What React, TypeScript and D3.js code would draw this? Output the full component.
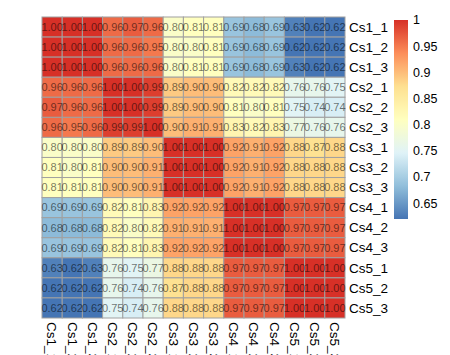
import React from "react";
import * as d3 from "d3";

const samples = ["Cs1_1","Cs1_2","Cs1_3","Cs2_1","Cs2_2","Cs2_3","Cs3_1","Cs3_2","Cs3_3","Cs4_1","Cs4_2","Cs4_3","Cs5_1","Cs5_2","Cs5_3"];

const rowCs1_1 = [1.00,1.00,1.00,0.96,0.97,0.96,0.80,0.81,0.81,0.69,0.68,0.69,0.63,0.62,0.62];
const rowCs1_2 = [1.00,1.00,1.00,0.96,0.96,0.95,0.80,0.80,0.81,0.69,0.68,0.69,0.62,0.62,0.62];
const rowCs1_3 = [1.00,1.00,1.00,0.96,0.96,0.96,0.80,0.81,0.81,0.69,0.68,0.69,0.63,0.62,0.62];
const rowCs2_1 = [0.96,0.96,0.96,1.00,1.00,0.99,0.89,0.90,0.90,0.82,0.82,0.82,0.76,0.76,0.75];
const rowCs2_2 = [0.97,0.96,0.96,1.00,1.00,0.99,0.89,0.90,0.90,0.81,0.80,0.81,0.75,0.74,0.74];
const rowCs2_3 = [0.96,0.95,0.96,0.99,0.99,1.00,0.90,0.91,0.91,0.83,0.82,0.83,0.77,0.76,0.76];
const rowCs3_1 = [0.80,0.80,0.80,0.89,0.89,0.90,1.00,1.00,1.00,0.92,0.91,0.92,0.88,0.87,0.88];
const rowCs3_2 = [0.81,0.80,0.81,0.90,0.90,0.91,1.00,1.00,1.00,0.92,0.91,0.92,0.88,0.88,0.88];
const rowCs3_3 = [0.81,0.81,0.81,0.90,0.90,0.91,1.00,1.00,1.00,0.92,0.91,0.92,0.88,0.88,0.88];
const rowCs4_1 = [0.69,0.69,0.69,0.82,0.81,0.83,0.92,0.92,0.92,1.00,1.00,1.00,0.97,0.97,0.97];
const rowCs4_2 = [0.68,0.68,0.68,0.82,0.80,0.82,0.91,0.91,0.91,1.00,1.00,1.00,0.97,0.97,0.97];
const rowCs4_3 = [0.69,0.69,0.69,0.82,0.81,0.83,0.92,0.92,0.92,1.00,1.00,1.00,0.97,0.97,0.97];
const rowCs5_1 = [0.63,0.62,0.63,0.76,0.75,0.77,0.88,0.88,0.88,0.97,0.97,0.97,1.00,1.00,1.00];
const rowCs5_2 = [0.62,0.62,0.62,0.76,0.74,0.76,0.87,0.88,0.88,0.97,0.97,0.97,1.00,1.00,1.00];
const rowCs5_3 = [0.62,0.62,0.62,0.75,0.74,0.76,0.88,0.88,0.88,0.97,0.97,0.97,1.00,1.00,1.00];

const matrix = [rowCs1_1,rowCs1_2,rowCs1_3,rowCs2_1,rowCs2_2,rowCs2_3,rowCs3_1,rowCs3_2,rowCs3_3,rowCs4_1,rowCs4_2,rowCs4_3,rowCs5_1,rowCs5_2,rowCs5_3];

const legendTicks = [1, 0.95, 0.9, 0.85, 0.8, 0.75, 0.7, 0.65];
const palette = ["#4575B4","#91BFDB","#E0F3F8","#FFFFBF","#FEE090","#FC8D59","#D73027"];
const vMin = 0.62, vMax = 1.0;

const FONT = "'Liberation Sans', Arial, Helvetica, sans-serif";

export default function App() {
  const W = 450, H = 355;
  const gx0 = 42, gx1 = 345, gy0 = 17, gy1 = 318;
  const x = d3.scaleBand<string>().domain(samples).range([gx0, gx1]);
  const y = d3.scaleBand<string>().domain(samples).range([gy0, gy1]);
  const stops = d3.range(palette.length).map(i => vMin + (i * (vMax - vMin)) / (palette.length - 1));
  const color = d3.scaleLinear<string>().domain(stops).range(palette).interpolate(d3.interpolateRgb).clamp(true);

  const ly = d3.scaleLinear().domain([vMin, vMax]).range([219, 20]);
  const lx0 = 394, lw = 14;

  const gradStops = d3.range(0, 101).map(i => {
    const v = vMin + (i / 100) * (vMax - vMin);
    return { off: i, c: color(v) };
  });

  return (
    <svg width={W} height={H} style={{ position: "absolute", left: 0, top: 0, background: "#fff" }}>
      <defs>
        <linearGradient id="lg" x1="0" y1="1" x2="0" y2="0">
          {gradStops.map(s => <stop key={s.off} offset={`${s.off}%`} stopColor={s.c} />)}
        </linearGradient>
      </defs>
      <rect x={0} y={0} width={W} height={H} fill="#fff" />
      {matrix.map((row, i) =>
        row.map((v, j) => (
          <rect key={`c${i}-${j}`} x={x(samples[j])} y={y(samples[i])} width={x.bandwidth()} height={y.bandwidth()}
            fill={color(v)} stroke="#a0a0a0" strokeWidth={1} />
        ))
      )}
      {matrix.map((row, i) =>
        row.map((v, j) => (
          <text key={`t${i}-${j}`} x={(x(samples[j]) as number) + x.bandwidth() / 2} y={(y(samples[i]) as number) + y.bandwidth() / 2}
            dy="0.35em" textAnchor="middle" fontFamily={FONT} fontSize={11} fill="#000" fillOpacity={0.55}>
            {v.toFixed(2)}
          </text>
        ))
      )}
      {samples.map(s => (
        <text key={`r${s}`} x={gx1 + 4} y={(y(s) as number) + y.bandwidth() / 2} dy="0.35em" fontFamily={FONT} fontSize={13.5} fill="#000">{s}</text>
      ))}
      {samples.map(s => {
        const cx = (x(s) as number) + x.bandwidth() / 2;
        return (
          <text key={`col${s}`} transform={`translate(${cx},${gy1 + 4}) rotate(90)`} dy="0.35em" fontFamily={FONT} fontSize={13.5} fill="#000">{s}</text>
        );
      })}
      <rect x={lx0} y={ly(vMax)} width={lw} height={ly(vMin) - ly(vMax)} fill="url(#lg)" />
      {legendTicks.map(t => (
        <text key={`lt${t}`} x={lx0 + lw + 5} y={ly(t)} dy="0.35em" fontFamily={FONT} fontSize={12.5} fill="#000">{String(t)}</text>
      ))}
    </svg>
  );
}
